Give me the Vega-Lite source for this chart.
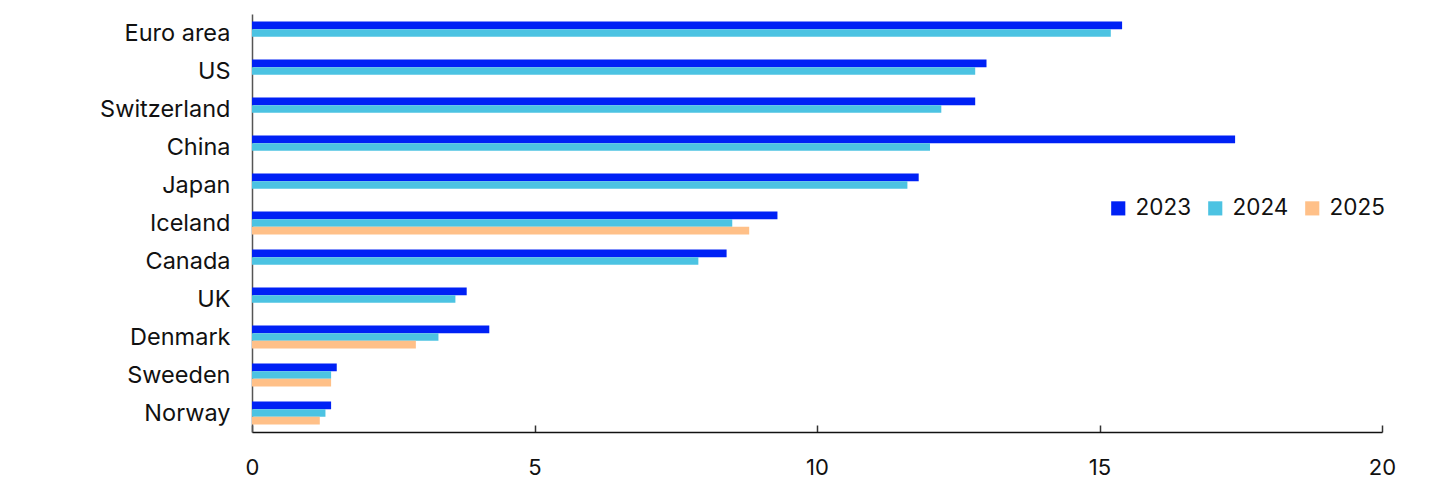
{
  "$schema": "https://vega.github.io/schema/vega-lite/v6.json",
  "autosize": "none",
  "width": 1130,
  "height": 418,
  "padding": {"left": 252, "top": 14, "right": 63, "bottom": 64},
  "background": "white",
  "config": {
    "view": {"stroke": null},
    "font": "Inter",
    "axis": {"labelFont": "Inter", "labelColor": "#111", "labelFontSize": 22, "grid": false, "title": null},
    "legend": {"labelFont": "Inter", "labelFontSize": 22.5, "labelColor": "#111"}
  },
  "data": {
    "values": [
      {"region": "Euro area", "year": "2023", "value": 15.4},
      {"region": "Euro area", "year": "2024", "value": 15.2},
      {"region": "US", "year": "2023", "value": 13.0},
      {"region": "US", "year": "2024", "value": 12.8},
      {"region": "Switzerland", "year": "2023", "value": 12.8},
      {"region": "Switzerland", "year": "2024", "value": 12.2},
      {"region": "China", "year": "2023", "value": 17.4},
      {"region": "China", "year": "2024", "value": 12.0},
      {"region": "Japan", "year": "2023", "value": 11.8},
      {"region": "Japan", "year": "2024", "value": 11.6},
      {"region": "Iceland", "year": "2023", "value": 9.3},
      {"region": "Iceland", "year": "2024", "value": 8.5},
      {"region": "Iceland", "year": "2025", "value": 8.8},
      {"region": "Canada", "year": "2023", "value": 8.4},
      {"region": "Canada", "year": "2024", "value": 7.9},
      {"region": "UK", "year": "2023", "value": 3.8},
      {"region": "UK", "year": "2024", "value": 3.6},
      {"region": "Denmark", "year": "2023", "value": 4.2},
      {"region": "Denmark", "year": "2024", "value": 3.3},
      {"region": "Denmark", "year": "2025", "value": 2.9},
      {"region": "Sweeden", "year": "2023", "value": 1.5},
      {"region": "Sweeden", "year": "2024", "value": 1.4},
      {"region": "Sweeden", "year": "2025", "value": 1.4},
      {"region": "Norway", "year": "2023", "value": 1.4},
      {"region": "Norway", "year": "2024", "value": 1.3},
      {"region": "Norway", "year": "2025", "value": 1.2}
    ]
  },
  "mark": {"type": "bar"},
  "encoding": {
    "y": {
      "field": "region",
      "type": "nominal",
      "sort": ["Euro area", "US", "Switzerland", "China", "Japan", "Iceland", "Canada", "UK", "Denmark", "Sweeden", "Norway"],
      "scale": {"paddingInner": 0.4, "paddingOuter": 0.2},
      "axis": {"ticks": false, "domainColor": "#555", "domainWidth": 1.5, "labelPadding": 22, "labelFontSize": 23.5, "labelOffset": 1}
    },
    "yOffset": {
      "field": "year",
      "type": "nominal",
      "scale": {"domain": ["2023", "2024", "2025"], "paddingInner": 0, "paddingOuter": 0}
    },
    "x": {
      "field": "value",
      "type": "quantitative",
      "scale": {"domain": [0, 20]},
      "axis": {"values": [0, 5, 10, 15, 20], "tickSize": -7, "tickColor": "#333", "tickWidth": 1.5, "domainColor": "#111", "domainWidth": 1.5, "labelPadding": 32, "labelFlush": false}
    },
    "color": {
      "field": "year",
      "type": "nominal",
      "scale": {"domain": ["2023", "2024", "2025"], "range": ["#0021f5", "#4cc3e2", "#ffc088"]},
      "legend": {
        "title": null,
        "orient": "none",
        "direction": "horizontal",
        "legendX": 855,
        "legendY": 183,
        "symbolType": "square",
        "symbolSize": 200,
        "symbolStrokeWidth": 0,
        "columnPadding": 12,
        "labelOffset": 6
      }
    }
  }
}
